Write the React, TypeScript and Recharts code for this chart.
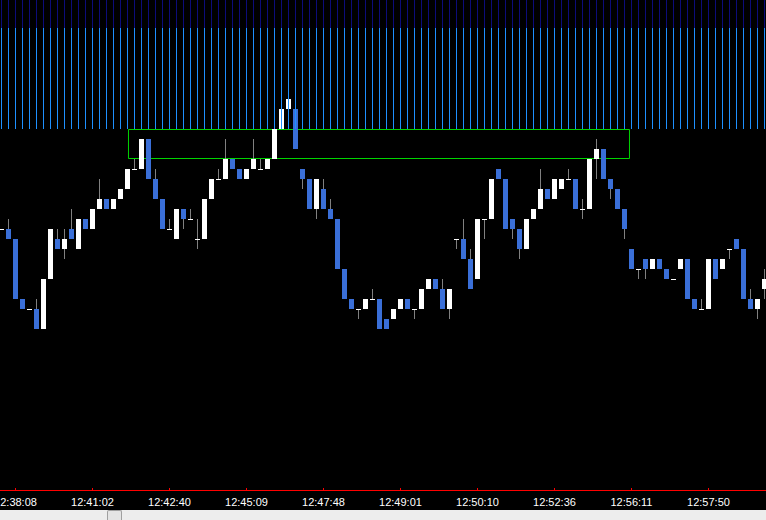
import React from "react";
import { ComposedChart, Bar, XAxis, YAxis, ReferenceArea } from "recharts";

// price levels in ticks, one entry per candle
const OPEN = [
  26, 26, 25, 19, 18, 18, 16, 21, 25, 24, 26, 24, 27, 26, 28, 29, 28, 29, 30, 32,
  32, 35, 31, 29, 26, 25, 28, 27, 25, 25, 29, 31, 31, 33, 32, 31, 32, 32, 32, 33,
  36, 38, 38, 32, 31, 28, 30, 28, 27, 22, 19, 18, 18, 19, 19, 17, 17, 18, 19, 18,
  18, 20, 21, 20, 18, 25, 25, 23, 21, 27, 27, 32, 31, 27, 26, 24, 27, 28, 30, 29,
  30, 31, 31, 28, 28, 33, 34, 31, 30, 28, 24, 22, 23, 22, 23, 22, 21, 22, 23, 19,
  18, 18, 23, 22, 24, 25, 24, 19, 18, 20,
];
const HIGH = [
  26, 27, 25, 19, 18, 19, 21, 26, 26, 26, 28, 27, 27, 28, 31, 29, 29, 30, 32, 33,
  35, 35, 32, 29, 27, 28, 28, 28, 27, 29, 31, 32, 35, 33, 32, 32, 35, 33, 33, 36,
  38, 39, 38, 32, 31, 31, 31, 29, 27, 22, 19, 18, 19, 20, 19, 17, 18, 19, 19, 18,
  20, 21, 21, 21, 20, 25, 27, 24, 27, 27, 31, 32, 31, 27, 26, 27, 28, 32, 30, 31,
  31, 32, 31, 29, 33, 35, 34, 31, 30, 28, 24, 22, 23, 23, 23, 22, 21, 23, 23, 19,
  19, 23, 23, 23, 24, 25, 24, 20, 19, 22,
];
const LOW = [
  26, 25, 19, 18, 18, 16, 16, 21, 24, 23, 25, 24, 26, 26, 28, 28, 28, 29, 30, 32,
  32, 31, 29, 26, 26, 25, 26, 27, 24, 25, 29, 31, 31, 32, 31, 31, 32, 32, 32, 33,
  36, 38, 34, 30, 28, 27, 28, 27, 22, 19, 18, 17, 18, 19, 16, 16, 17, 18, 18, 17,
  18, 20, 20, 18, 17, 24, 23, 20, 21, 25, 27, 31, 26, 25, 23, 24, 27, 28, 29, 29,
  30, 31, 28, 27, 28, 31, 31, 29, 28, 25, 22, 21, 21, 22, 22, 21, 21, 22, 19, 18,
  18, 18, 21, 22, 23, 24, 19, 18, 17, 19,
];
const CLOSE = [
  26, 25, 19, 18, 18, 16, 21, 26, 24, 25, 25, 27, 26, 28, 29, 28, 29, 30, 32, 32,
  35, 31, 29, 26, 26, 28, 27, 27, 25, 29, 31, 31, 33, 32, 31, 32, 33, 32, 33, 36,
  38, 39, 34, 31, 28, 31, 28, 27, 22, 19, 18, 18, 19, 19, 16, 16, 18, 19, 18, 18,
  20, 21, 20, 18, 20, 25, 23, 20, 27, 27, 31, 31, 26, 26, 24, 27, 28, 30, 29, 31,
  31, 31, 28, 28, 33, 34, 31, 30, 28, 26, 22, 22, 22, 23, 22, 21, 21, 23, 19, 18,
  18, 23, 21, 23, 24, 24, 19, 18, 19, 21,
];

const TICK_INDEX = [2, 13, 24, 35, 46, 57, 68, 79, 90, 101];
const TICK_LABELS = [
  "12:38:08", "12:41:02", "12:42:40", "12:45:09", "12:47:48",
  "12:49:01", "12:50:10", "12:52:36", "12:56:11", "12:57:50",
];

// stripe indicator across the top of the window
const STRIPE_FLOOR = 36.0;
const STRIPE_SPLIT = 46.1;
const STRIPE_TOP = 48.9;

// green box (candle index / price)
const BOX_X1 = 18.14;
const BOX_X2 = 89.71;
const BOX_Y1 = 33.05;
const BOX_Y2 = 35.95;

const W = 766;
const H = 510;
const AXIS_H = 20;
const Y_MIN = -0.1;
const Y_MAX = 48.9;
const STEP = 7; // px per candle
const X_MIN = -1.5 / STEP;
const X_MAX = X_MIN + W / STEP;
const PPU = (H - AXIS_H) / (Y_MAX - Y_MIN);

const UP = "#ffffff";
const DOWN = "#3a6fd8";
const WICK = "#808080";
const AXIS_RED = "#ff0000";

const data = OPEN.map((o, i) => ({
  i,
  open: o,
  high: HIGH[i],
  low: LOW[i],
  close: CLOSE[i],
  range: [LOW[i], HIGH[i]],
  stripe: [STRIPE_FLOOR, STRIPE_TOP],
}));

function Candle(props: any) {
  const { x, y, width, payload } = props;
  const { open, close, high, low } = payload;
  const yOf = (v: number) => y + (high - v) * PPU;
  const cx = x + width / 2;
  const top = yOf(Math.max(open, close));
  const bot = yOf(Math.min(open, close));
  return (
    <g>
      {high > low && (
        <line x1={cx} x2={cx} y1={yOf(high)} y2={yOf(low)} stroke={WICK} strokeWidth={1} />
      )}
      {open === close ? (
        <rect x={x} y={top} width={width} height={1} fill={UP} />
      ) : (
        <rect x={x} y={top} width={width} height={bot - top} fill={close > open ? UP : DOWN} />
      )}
    </g>
  );
}

function Stripe(props: any) {
  const { x, y, width } = props;
  const cx = x + width / 2;
  const yOf = (v: number) => y + (STRIPE_TOP - v) * PPU;
  return (
    <g>
      <line x1={cx} x2={cx} y1={yOf(STRIPE_TOP)} y2={yOf(STRIPE_SPLIT)} stroke="#0c0c7a" strokeWidth={1} />
      <line x1={cx} x2={cx} y1={yOf(STRIPE_SPLIT)} y2={yOf(STRIPE_FLOOR)} stroke="#1e90ff" strokeWidth={1} />
    </g>
  );
}

function TimeTick(props: any) {
  const { x, y, payload } = props;
  const axisY = y - 8;
  const idx = TICK_INDEX.indexOf(payload.value);
  return (
    <g>
      <line x1={x} x2={x} y1={axisY - 2} y2={axisY + 1} stroke={AXIS_RED} strokeWidth={1} />
      <text
        x={x}
        y={y}
        dy="0.71em"
        textAnchor="middle"
        fill="#ffffff"
        fontSize={11}
        fontFamily="'Liberation Sans', Arial, sans-serif"
      >
        {idx >= 0 ? TICK_LABELS[idx] : ""}
      </text>
    </g>
  );
}

export default function App() {
  return (
    <div
      style={{
        position: "absolute",
        left: 0,
        top: 0,
        width: W,
        height: 520,
        background: "#000",
        overflow: "hidden",
      }}
    >
      <ComposedChart width={W} height={H} data={data} margin={{ top: 0, right: 0, bottom: 0, left: 0 }}>
        <XAxis
          xAxisId="main"
          dataKey="i"
          type="number"
          domain={[X_MIN, X_MAX]}
          allowDataOverflow
          ticks={TICK_INDEX}
          height={AXIS_H}
          tickLine={false}
          tickSize={0}
          tickMargin={8}
          axisLine={false}
          tick={<TimeTick />}
          interval={0}
        />
        <XAxis xAxisId="stripe" dataKey="i" type="number" domain={[X_MIN, X_MAX]} allowDataOverflow hide />
        <YAxis domain={[Y_MIN, Y_MAX]} allowDataOverflow hide />
        <Bar
          xAxisId="main"
          dataKey="range"
          barSize={5}
          shape={<Candle />}
          isAnimationActive={false}
        />
        <Bar
          xAxisId="stripe"
          dataKey="stripe"
          barSize={5}
          shape={<Stripe />}
          isAnimationActive={false}
        />
        <ReferenceArea
          xAxisId="main"
          x1={BOX_X1}
          x2={BOX_X2}
          y1={BOX_Y1}
          y2={BOX_Y2}
          fill="none"
          fillOpacity={0}
          stroke="#00d400"
          strokeWidth={1}
          ifOverflow="visible"
        />
      </ComposedChart>
      {/* axis line */}
      <div
        style={{
          position: "absolute",
          left: 0,
          top: 490,
          width: W,
          height: 1,
          background: AXIS_RED,
        }}
      />
      {/* scrollbar */}
      <div
        style={{
          position: "absolute",
          left: 0,
          top: 510,
          width: W,
          height: 10,
          background: "#ededed",
        }}
      >
        <div
          style={{
            position: "absolute",
            left: 107,
            top: 0,
            width: 13,
            height: 10,
            background: "#e4e4e4",
            border: "1px solid #a0a0a0",
            borderBottom: "none",
            borderRadius: "2px 2px 0 0",
          }}
        />
      </div>
    </div>
  );
}
